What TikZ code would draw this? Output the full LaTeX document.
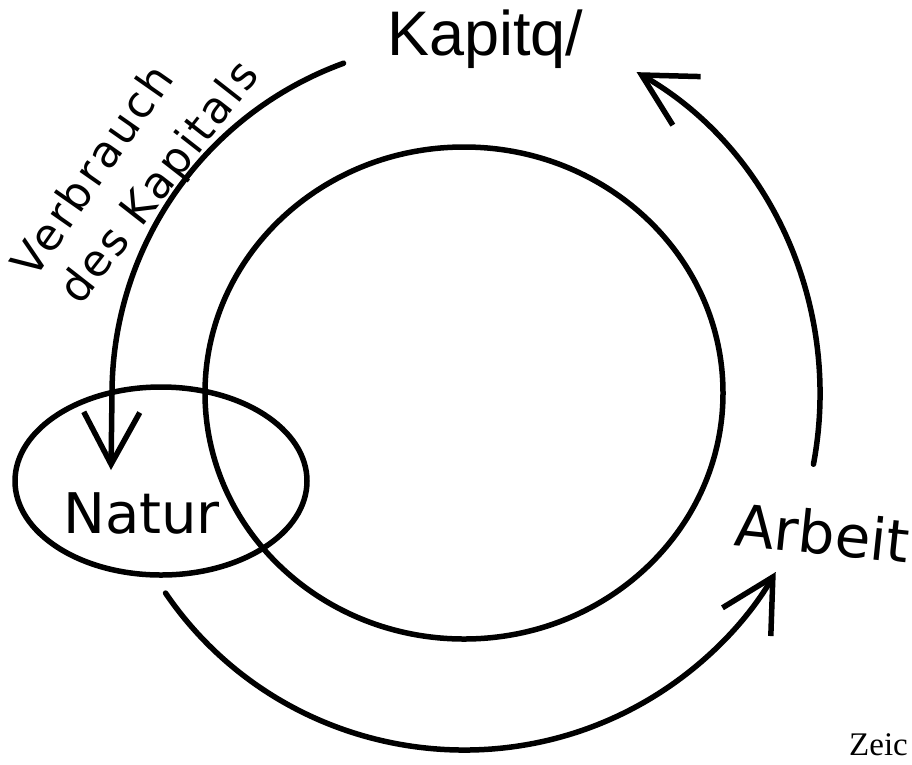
\documentclass[tikz,border=0pt]{standalone}
\usepackage{fontspec}
\setmainfont{Liberation Sans}
\newfontfamily\handfont{DejaVu Sans}
\newfontfamily\handwide[LetterSpace=6]{DejaVu Sans}
\newfontfamily\printfont{Liberation Serif}
\usetikzlibrary{arrows.meta,shapes.geometric,calc}
\tikzset{
  pen/.style={line width=5.5pt,line cap=round,line join=round,draw=black},
  arrow/.style={pen,-{Straight Barb[length=52pt,width=56pt]}},
  ring/.style={pen,ellipse,inner sep=0pt},
  hand/.style={font=\handfont\fontsize{#1}{#1}\selectfont,inner sep=0pt,text depth=0pt},
  hand/.default=56,
  slope/.style={hand,font=\handwide\fontsize{#1}{#1}\selectfont}
}

\begin{document}
\begin{tikzpicture}[x=1pt,y=-1pt]
\useasboundingbox (0,0) rectangle (912,764);
\coordinate (m) at (464,394);

% rings
\node[ring,minimum width=518pt,minimum height=492pt] (kreis) at (464,393) {};
\node[ring,minimum width=292pt,minimum height=188pt] (naturring) at (161,481) {};

% labels
\node[anchor=base west,inner sep=0pt,font=\fontsize{63}{70}\selectfont] (kapital) at (387,55) {Kapitq/};
\node[hand,anchor=base west] (natur) at (63,533) {Natur};
\node[hand=58,anchor=base west,rotate=-6] (arbeit) at (733,545) {Arbeit};
\node[slope=44,rotate=55] (verbrauch) at (91,170) {Verbrauch};
\node[slope=44,rotate=52] (deskap) at (157,181) {des Kapitals};
\node[anchor=base west,inner sep=0pt,font=\printfont\fontsize{33}{40}\selectfont] (zeic) at (849,755) {Zeic};

% flows round the ring
\coordinate (vstart) at ($(m)+(250:352)$);
\coordinate (vend) at (111,470);
\draw[arrow] (vstart) arc[start angle=250,end angle=180,radius=352] -- (vend);

\coordinate (nstart) at ($(m)+(146:360 and 356)$);
\draw[arrow] (nstart) arc[start angle=146,end angle=30,x radius=360,y radius=356];

\coordinate (astart) at ($(m)+(11:356 and 368)$);
\draw[arrow] (astart) arc[start angle=11,end angle=-61,x radius=356,y radius=368];
\end{tikzpicture}
\end{document}
